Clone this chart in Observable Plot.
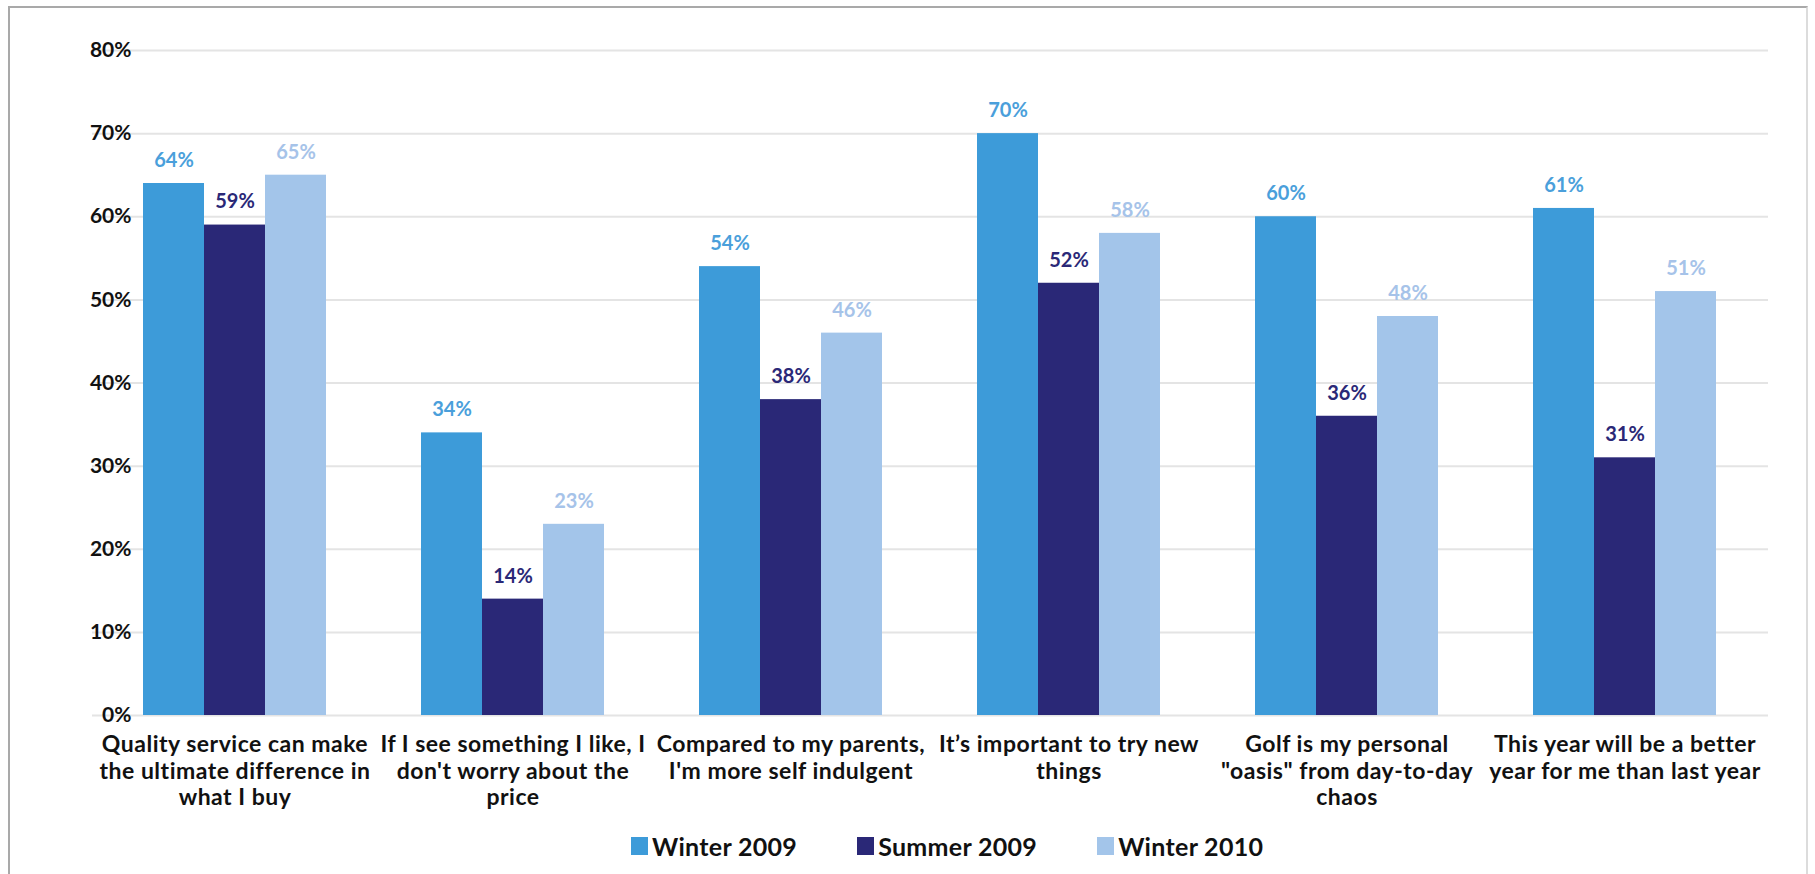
<!DOCTYPE html>
<html><head><meta charset="utf-8">
<script src="https://cdn.jsdelivr.net/npm/d3@7"></script>
<script src="https://cdn.jsdelivr.net/npm/@observablehq/plot@0.6"></script>
<style>
body{margin:0;background:#fff;font-family:Lato, "Open Sans", sans-serif;}
#wrap{position:relative;width:1815px;height:874px;overflow:hidden;background:#fff;}
#frame{position:absolute;left:8px;top:6px;width:1800px;height:900px;border:2px solid #a9a9a9;border-right-color:#dcdcdc;box-sizing:border-box;}
#grid, #chart{position:absolute;left:0;top:0;}
#chart g[aria-label="fx-axis tick label"] text{letter-spacing:0.5px;}
#legend{position:absolute;left:631px;top:831px;display:flex;align-items:center;font-family:Lato, sans-serif;font-weight:bold;font-size:25px;color:#111;letter-spacing:0.3px;}
#legend .item{display:flex;align-items:center;margin-right:60px;}
#legend .sw{width:17px;height:18px;margin-right:4px;}
</style></head>
<body><div id="wrap"><div id="frame"></div><div id="grid"></div><div id="chart"></div><div id="legend"></div></div>
<script>
const categories = [
  "Quality service can make\nthe ultimate difference in\nwhat I buy",
  "If I see something I like, I\ndon't worry about the\nprice",
  "Compared to my parents,\nI'm more self indulgent",
  "It\u2019s important to try new\nthings",
  "Golf is my personal\n\"oasis\" from day-to-day\nchaos",
  "This year will be a better\nyear for me than last year"
];
const series = ["Winter 2009", "Summer 2009", "Winter 2010"];
const winter2009 = [64, 34, 54, 70, 60, 61];
const summer2009 = [59, 14, 38, 52, 36, 31];
const winter2010 = [65, 23, 46, 58, 48, 51];
const yTicks = [0, 10, 20, 30, 40, 50, 60, 70, 80];
const barColors = ["#3d9bd9", "#2a2877", "#a3c5ea"];
const labelColors = ["#4a9fdb", "#2a2877", "#a6c3e9"];

const valuesBySeries = [winter2009, summer2009, winter2010];
const data = categories.flatMap((c, i) => series.map((s, j) => ({category: c, series: s, value: valuesBySeries[j][i]})));

const common = {
  width: 1815, height: 822,
  marginLeft: 92, marginRight: 47, marginTop: 50, marginBottom: 107
};

// gridlines spanning the whole frame (drawn underneath)
const grid = Plot.plot({
  ...common,
  style: {background: "transparent"},
  x: {axis: null},
  y: {domain: [0, 80], axis: null},
  marks: [Plot.ruleY(yTicks, {stroke: "#e4e4e4", strokeWidth: 2})]
});
document.getElementById("grid").appendChild(grid);

const labelMarks = series.map((s, j) => Plot.text(data.filter(d => d.series === s), {
  fx: "category", x: "series", y: "value",
  text: d => d.value + "%",
  dy: -23, fill: labelColors[j], fontSize: 20, fontWeight: "bold"
}));

const chart = Plot.plot({
  ...common,
  style: {fontFamily: "Lato, sans-serif", background: "transparent", color: "#111"},
  fx: {domain: categories, paddingInner: 0.34, paddingOuter: 0.18, label: null},
  x: {domain: series, padding: 0, axis: null},
  y: {domain: [0, 80], label: null},
  color: {domain: series, range: barColors},
  marks: [
    Plot.barY(data, {fx: "category", x: "series", y: "value", fill: "series"}),
    ...labelMarks,
    Plot.axisY(yTicks, {tickSize: 0, tickPadding: 12, tickFormat: d => d + "%", fontSize: 21, fontWeight: "bold", fill: "#111", label: null}),
    Plot.axisFx({anchor: "bottom", tickSize: 0, tickPadding: 18, fontSize: 23, fontWeight: "bold", lineHeight: 1.15, fill: "#111", label: null})
  ]
});
document.getElementById("chart").appendChild(chart);

const legend = document.getElementById("legend");
series.forEach((s, j) => {
  const item = document.createElement("div");
  item.className = "item";
  const sw = document.createElement("div");
  sw.className = "sw";
  sw.style.background = barColors[j];
  const t = document.createElement("span");
  t.textContent = s;
  item.appendChild(sw); item.appendChild(t);
  legend.appendChild(item);
});
</script>
</body></html>
